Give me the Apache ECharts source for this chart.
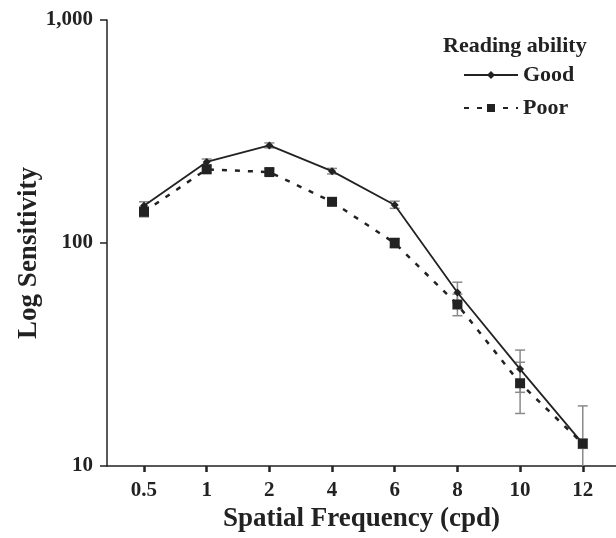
<!DOCTYPE html>
<html style="height: 100%">
<head>
    <meta charset="UTF-8">
    <title>Log Sensitivity vs Spatial Frequency</title>
    <script src="https://cdn.jsdelivr.net/npm/echarts@6/dist/echarts.min.js"></script>
</head>
<body style="height: 100%; margin: 0; background: #fff">
    <div id="main" style="width: 616px; height: 538px"></div>
    <script type="text/javascript">
        // spatial frequencies (cpd), one category each
        var freqLabels = ['0.5', '1', '2', '4', '6', '8', '10', '12'];

        // mean sensitivity
        var goodMean = [147, 231, 274, 210, 148, 60, 27.2, 12.6];
        var poorMean = [138, 214, 208, 153, 100, 53, 23.5, 12.6];

        // error bar ends
        var goodLow  = [140, 224, 267, 204, 143, 54, 21.4, 12.0];
        var goodHigh = [153, 238, 281, 216, 154, 66.7, 33.1, 13.2];
        var poorLow  = [131, 206, 202, 148, 95, 47.2, 17.2, 8];
        var poorHigh = [145, 222, 215, 158, 105, 59, 29.2, 18.6];

        var yTicks = [10, 100, 1000];

        var serif = '"Liberation Serif", "DejaVu Serif", serif';
        var ink = '#222';

        function pairs(vals) {
            return vals.map(function (v, i) { return [i, v]; });
        }
        function bars(lo, hi) {
            return lo.map(function (v, i) { return [i, v, hi[i]]; });
        }

        function renderErr(params, api) {
            var x = api.value(0);
            var top = api.coord([x, api.value(2)]);
            var bot = api.coord([x, api.value(1)]);
            var half = 5;
            var style = { stroke: '#8a8a8a', lineWidth: 1.5 };
            return {
                type: 'group',
                children: [
                    { type: 'line', shape: { x1: top[0], y1: top[1], x2: bot[0], y2: bot[1] }, style: style },
                    { type: 'line', shape: { x1: top[0] - half, y1: top[1], x2: top[0] + half, y2: top[1] }, style: style },
                    { type: 'line', shape: { x1: bot[0] - half, y1: bot[1], x2: bot[0] + half, y2: bot[1] }, style: style }
                ]
            };
        }

        var myChart = echarts.init(document.getElementById('main'));

        myChart.setOption({
            backgroundColor: '#fff',
            animation: false,
            textStyle: { fontFamily: serif, color: ink },
            title: {
                text: 'Reading ability',
                left: 438,
                top: 30,
                textStyle: { fontFamily: serif, fontWeight: 'bold', fontSize: 22, color: ink }
            },
            legend: {
                orient: 'vertical',
                left: 458,
                top: 59,
                itemWidth: 54,
                itemHeight: 10,
                itemGap: 11,
                textStyle: { fontFamily: serif, fontWeight: 'bold', fontSize: 22, color: ink },
                data: ['Good', 'Poor']
            },
            grid: { left: 107, right: 0, top: 20, bottom: 72 },
            xAxis: {
                type: 'value',
                min: -0.59,
                max: 7.53,
                name: 'Spatial Frequency (cpd)',
                nameLocation: 'middle',
                nameGap: 35,
                nameTextStyle: { fontFamily: serif, fontWeight: 'bold', fontSize: 27, color: ink },
                splitLine: { show: false },
                axisLine: { lineStyle: { color: ink, width: 1.5 } },
                axisTick: {
                    customValues: freqLabels.map(function (_, i) { return i; }),
                    length: 6,
                    lineStyle: { color: ink, width: 2.5 }
                },
                axisLabel: {
                    customValues: freqLabels.map(function (_, i) { return i; }),
                    formatter: function (v) { return freqLabels[Math.round(v)]; },
                    margin: 14,
                    fontFamily: serif,
                    fontWeight: 'bold',
                    fontSize: 21,
                    color: ink
                }
            },
            yAxis: {
                type: 'log',
                logBase: 10,
                min: yTicks[0],
                max: yTicks[yTicks.length - 1],
                name: 'Log Sensitivity',
                nameLocation: 'middle',
                nameGap: 64,
                nameMoveOverlap: false,
                nameTextStyle: {
                    fontFamily: serif, fontWeight: 'bold', fontSize: 27, color: ink,
                    padding: [0, 20, 0, 0]
                },
                splitLine: { show: false },
                minorTick: { show: false },
                axisLine: { onZero: false, lineStyle: { color: ink, width: 1.5 } },
                axisTick: { length: 7, lineStyle: { color: ink, width: 1.5 } },
                axisLabel: {
                    margin: 14,
                    fontFamily: serif,
                    fontWeight: 'bold',
                    fontSize: 21,
                    color: ink,
                    formatter: function (v) { return v.toLocaleString('en-US'); }
                }
            },
            series: [
                {
                    name: 'Good err',
                    type: 'custom',
                    renderItem: renderErr,
                    data: bars(goodLow, goodHigh),
                    clip: true,
                    z: 1
                },
                {
                    name: 'Poor err',
                    type: 'custom',
                    renderItem: renderErr,
                    data: bars(poorLow, poorHigh),
                    clip: true,
                    z: 1
                },
                {
                    name: 'Good',
                    type: 'line',
                    data: pairs(goodMean),
                    symbol: 'diamond',
                    symbolSize: 8,
                    itemStyle: { color: ink },
                    lineStyle: { color: ink, width: 1.8 },
                    z: 3
                },
                {
                    name: 'Poor',
                    type: 'line',
                    data: pairs(poorMean),
                    symbol: 'rect',
                    symbolSize: 10,
                    itemStyle: { color: ink },
                    lineStyle: { color: ink, width: 2.5, type: [5, 8] },
                    z: 4
                }
            ]
        });
    </script>
</body>
</html>
